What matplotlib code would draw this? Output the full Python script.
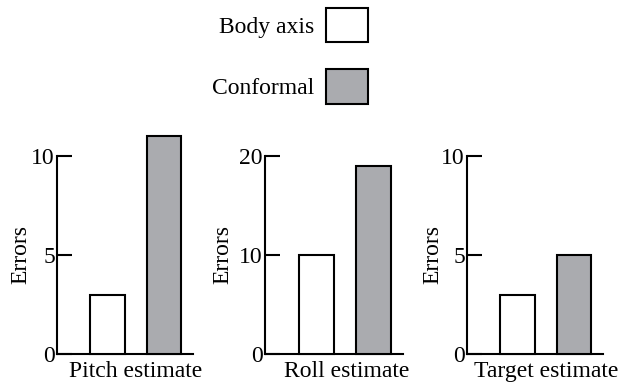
import matplotlib
matplotlib.use("Agg")
import matplotlib.pyplot as plt
from matplotlib.patches import Patch
from matplotlib.transforms import blended_transform_factory

plt.rcParams['font.family'] = ['Liberation Serif', 'DejaVu Serif']

panels = ["Pitch estimate", "Roll estimate", "Target estimate"]
series = ["Body axis", "Conformal"]
body_axis = [3, 10, 3]
conformal = [11, 19, 5]
yticks = [[0, 5, 10], [0, 10, 20], [0, 5, 10]]
ylims = [11, 22, 11]

colors = ["white", "#aaabaf"]
FS = 17
W, H = 632, 383
fig = plt.figure(figsize=(W / 100, H / 100), dpi=100)

lefts = [57, 265, 467]
widths = [136, 138, 136]
bottom = 354
height = 217.8
ylab_x = [-0.19, -0.232, -0.176]
xlab_x = [0.5, 0.53, 0.5]

for i in range(3):
    ax = fig.add_axes([lefts[i] / W, (H - bottom) / H, widths[i] / W, height / H])
    vals = [body_axis[i], conformal[i]]
    ax.bar([0, 1], vals, width=0.61, color=colors, edgecolor="black",
           linewidth=1.5, clip_on=False, zorder=3)
    ax.set_xlim(-0.89, 1.51)
    ax.set_ylim(0, ylims[i])
    ax.set_yticks(yticks[i])
    ax.set_yticklabels([str(t) for t in yticks[i]], fontsize=FS)
    ax.set_xticks([])
    ax.spines['top'].set_visible(False)
    ax.spines['right'].set_visible(False)
    ax.spines['left'].set_bounds(0, yticks[i][-1])
    for s in ('left', 'bottom'):
        ax.spines[s].set_linewidth(1.5)
    ax.tick_params(axis='y', direction='in', length=10.5, width=1.5, pad=1.5)
    ax.set_ylabel("Errors", fontsize=FS)
    ax.yaxis.set_label_coords(ylab_x[i], (yticks[i][-1] / 2) / ylims[i])
    tr = blended_transform_factory(ax.transData, ax.transAxes)
    ax.text(xlab_x[i], -23 / height, panels[i], transform=tr, ha='center',
            va='baseline', fontsize=FS)

handles = [Patch(facecolor=colors[k], edgecolor='black', linewidth=1.5) for k in range(2)]
fig.legend(handles, series, loc='upper right', bbox_to_anchor=(368 / W, 1 - 8 / H),
           frameon=False, markerfirst=False, fontsize=17, borderpad=0,
           borderaxespad=0, handlelength=1.78, handleheight=1.86,
           handletextpad=0.5, labelspacing=1.15)

fig.savefig("out.png", dpi=100)
